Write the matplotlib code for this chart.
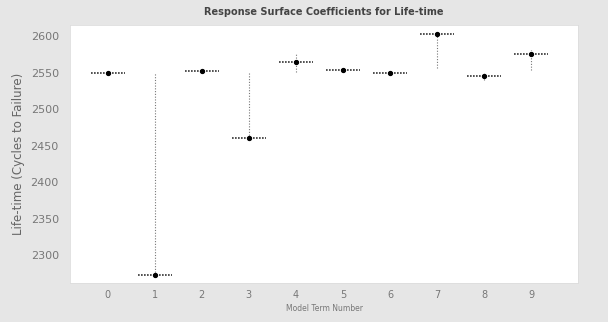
import matplotlib
matplotlib.use("Agg")
import matplotlib.pyplot as plt
import numpy as np

terms = [0, 1, 2, 3, 4, 5, 6, 7, 8, 9]
coef = [2549, 2273, 2552, 2461, 2564, 2553, 2550, 2603, 2545, 2575]
lower = [2549, 2273, 2552, 2461, 2551, 2553, 2550, 2556, 2540, 2554]
upper = [2549, 2550, 2552, 2550, 2575, 2553, 2550, 2603, 2550, 2581]
yticks = [2300, 2350, 2400, 2450, 2500, 2550, 2600]

fig = plt.figure(figsize=(6.08, 3.22), dpi=100, facecolor="#e6e6e6")
ax = fig.add_axes([0.115, 0.121, 0.836, 0.801])
ax.set_facecolor("white")

hw = 0.36
for t, c, lo, hi in zip(terms, coef, lower, upper):
    ax.plot([t, t], [lo, hi], linestyle=(0, (1, 1.5)), color="#777777", linewidth=0.8)
    ax.plot([t - hw, t + hw], [c, c], linestyle=(0, (1, 0.8)), color="#333333", linewidth=1.2)
ax.plot(terms, coef, "o", color="black", markersize=2.8)

ax.set_xlim(-0.8, 10)
ax.set_ylim(2262, 2615)
ax.set_xticks(terms)
ax.set_yticks(yticks)
ax.tick_params(length=0, labelsize=8, colors="#777777")
ax.tick_params(axis="y", pad=8)
ax.tick_params(axis="x", pad=5, labelsize=7)
for s in ax.spines.values():
    s.set_color("#dddddd")
    s.set_linewidth(0.6)

ax.set_title("Response Surface Coefficients for Life-time", fontsize=7, fontweight="bold",
             color="#444444", pad=7)
ax.set_ylabel("Life-time (Cycles to Failure)", fontsize=8.5, color="#666666", labelpad=4)
ax.set_xlabel("Model Term Number", fontsize=5.5, color="#777777", labelpad=3)

fig.savefig("out.png", dpi=100, facecolor=fig.get_facecolor())
